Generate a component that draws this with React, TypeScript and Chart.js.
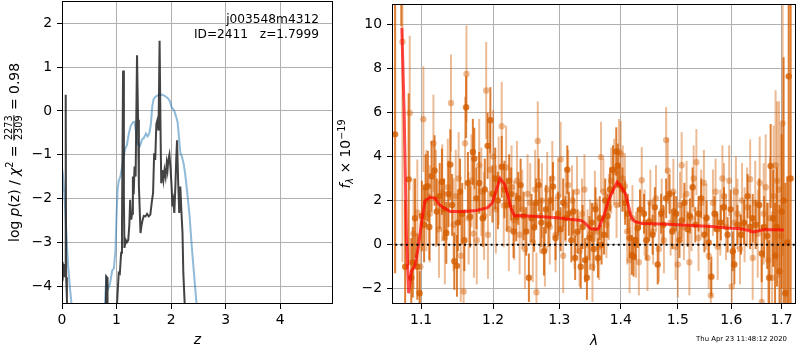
import React, { useEffect, useRef } from 'react';
import { Chart, registerables } from 'chart.js';

Chart.register(...registerables);

const FONT = '"DejaVu Sans", sans-serif';

// ---------------- Left panel: log p(z) ----------------
const zTicks = [0, 1, 2, 3, 4];
// light blue curve
const blueZ = [0, 0.02, 0.05, 0.08, 0.11, 0.15, 0.19, 0.3, 0.5, 0.7, 0.78, 0.81, 0.85, 0.88, 0.92, 0.95, 0.98, 1.0, 1.02, 1.04, 1.07, 1.1, 1.13, 1.16, 1.19, 1.225, 1.26, 1.3, 1.33, 1.36, 1.39, 1.43, 1.47, 1.5, 1.54, 1.57, 1.6, 1.63, 1.655, 1.68, 1.72, 1.78, 1.84, 1.89, 1.94, 1.98, 2.005, 2.03, 2.06, 2.09, 2.12, 2.145, 2.17, 2.2, 2.23, 2.26, 2.3, 2.34, 2.38, 2.42, 2.46, 2.5, 2.6, 3.0, 4.0, 5.0];
const blueLogP = [-1.3, -1.5, -2.05, -2.8, -3.5, -4.1, -4.6, -6.5, -8, -6.5, -4.6, -3.85, -4.05, -3.95, -3.65, -3.6, -3.2, -2.4, -1.8, -1.6, -1.5, -1.3, -1.05, -0.86, -0.78, -0.52, -0.34, -0.26, -0.25, -0.5, -0.75, -0.8, -0.65, -0.62, -0.52, -0.58, -0.52, -0.3, 0.1, 0.27, 0.33, 0.37, 0.37, 0.34, 0.29, 0.22, 0.1, 0.05, 0.0, -0.12, -0.25, -0.6, -0.95, -1.05, -1.2, -1.45, -1.9, -2.4, -3.1, -3.7, -4.3, -4.8, -6, -8, -9, -9];
// dark spiky curve
const darkZ = [0, 0.008, 0.016, 0.03, 0.045, 0.058, 0.068, 0.076, 0.09, 0.1, 0.13, 0.3, 0.6, 0.79, 0.812, 0.826, 0.835, 0.9, 0.99, 1.01, 1.04, 1.06, 1.085, 1.1, 1.12, 1.135, 1.145, 1.17, 1.19, 1.215, 1.235, 1.25, 1.27, 1.285, 1.3, 1.315, 1.33, 1.35, 1.376, 1.395, 1.41, 1.44, 1.46, 1.48, 1.5, 1.53, 1.56, 1.59, 1.62, 1.65, 1.67, 1.69, 1.71, 1.73, 1.75, 1.77, 1.79, 1.805, 1.82, 1.84, 1.86, 1.88, 1.9, 1.92, 1.935, 1.95, 1.97, 1.99, 2.01, 2.025, 2.04, 2.06, 2.08, 2.095, 2.11, 2.13, 2.15, 2.17, 2.19, 2.21, 2.225, 2.25, 2.28, 2.5, 5.0];
const darkLogP = [-3.7, -3.45, -3.75, -3.5, -3.8, -3.6, 0.37, -3.8, -4.3, -4.6, -6, -8, -8, -6, -3.78, -3.8, -6, -8, -6, -4.4, -3.7, -3.72, -3.24, -2.64, 0.92, -2.0, -3.13, -2.95, -3.0, -2.95, -2.6, -2.03, -2.48, -2.35, -1.5, -1.9, -1.27, -1.5, 1.27, -0.2, -1.7, -2.79, -2.6, -2.48, -2.4, -2.41, -2.35, -2.41, -2.37, -2.05, -1.88, -0.97, -1.12, -0.3, -0.21, -0.45, 1.6, -0.2, -1.65, -1.35, -1.58, -1.35, -1.5, -1.2, -1.35, -1.12, -1.0, -1.3, -1.73, -2.18, -2.05, -2.33, -1.7, -1.1, -0.67, -1.6, -2.33, -1.73, -2.3, -2.79, -3.7, -4.4, -6, -8, -9];

const OBJ_NAME = 'j003548m4312';
const OBJ_INFO = 'ID=2411   z=1.7999';
const CHI_NUM = '2273';
const CHI_DEN = '2309';
const CHI_VAL = '0.98';

// ---------------- Right panel: spectrum ----------------
const lamTicks = [1.1, 1.2, 1.3, 1.4, 1.5, 1.6, 1.7];
const fluxTicks = [-2, 0, 2, 4, 6, 8, 10];
const TIMESTAMP = 'Thu Apr 23 11:48:12 2020';

const modelLam = [1.0747, 1.0777, 1.0806, 1.0836, 1.0872, 1.0916, 1.096, 1.1005, 1.105, 1.112, 1.119, 1.1234, 1.13, 1.1395, 1.158, 1.176, 1.192, 1.199, 1.204, 1.21, 1.2165, 1.2215, 1.2265, 1.2315, 1.239, 1.279, 1.304, 1.3345, 1.34, 1.3505, 1.361, 1.3635, 1.3715, 1.3795, 1.3876, 1.394, 1.4, 1.4082, 1.414, 1.418, 1.424, 1.436, 1.471, 1.5, 1.562, 1.593, 1.619, 1.632, 1.642, 1.652, 1.6655, 1.705];
const modelFlux = [9.83, 6.0, 0.5, -2.2, -1.2, -0.98, -0.18, 0.98, 1.98, 2.15, 2.1, 1.85, 1.68, 1.5, 1.5, 1.55, 1.68, 1.9, 2.4, 3.0, 2.75, 2.22, 1.62, 1.3, 1.32, 1.25, 1.2, 1.1, 1.0, 0.72, 0.7, 0.76, 1.28, 2.0, 2.5, 2.83, 2.65, 2.3, 1.68, 1.23, 1.05, 0.96, 0.94, 0.9, 0.82, 0.75, 0.72, 0.65, 0.58, 0.62, 0.69, 0.67];

// [lambda, flux, error]  (first orient, darker)
const specDark: [number, number, number][] = [
  [1.066, 5.0, 6.3], [1.074, 14.0, 4.1], [1.079, -1.0, 3.0], [1.0836, 2.96, 3.9], [1.087, -1.5, 1.8], [1.089, -0.8, 1.6], [1.092, 1.2, 1.8], [1.095, -1.0, 1.5], [1.098, -2.2, 1.0], [1.101, 1.3, 1.6],
  [1.104, 0.9, 1.7], [1.106, 2.6, 1.5], [1.109, 2.65, 1.6], [1.111, 0.8, 1.5], [1.114, 3.1, 1.6], [1.118, 3.36, 1.6], [1.121, 1.5, 1.5], [1.125, 2.2, 1.5], [1.128, 2.85, 1.5], [1.131, 1.6, 1.4],
  [1.134, 0.53, 1.4], [1.137, 2.3, 1.5], [1.1395, 3.63, 1.6], [1.142, 1.8, 1.4], [1.145, -0.75, 1.3], [1.1487, -0.96, 1.4], [1.15, 1.0, 1.3], [1.153, 2.4, 1.5], [1.156, 1.4, 1.4], [1.159, 0.2, 1.4],
  [1.1615, 6.23, 1.4], [1.164, 2.8, 1.4], [1.167, 1.27, 1.4], [1.171, 4.2, 1.5], [1.173, 3.9, 1.4], [1.176, 2.1, 1.4], [1.18, 2.8, 1.4], [1.185, 1.2, 1.3], [1.188, 2.5, 1.4], [1.192, 4.48, 1.5],
  [1.196, 5.64, 1.5], [1.199, 2.3, 1.3], [1.203, 3.0, 1.4], [1.207, 2.0, 1.3], [1.2125, 3.53, 1.4], [1.2165, 2.5, 1.3], [1.22, 1.8, 1.2], [1.2235, 2.9, 1.2], [1.2265, 2.3, 1.2], [1.23, 0.6, 1.2],
  [1.234, 1.25, 1.1], [1.237, 2.1, 1.2], [1.2405, 2.7, 1.2], [1.245, 1.3, 1.1], [1.249, 0.6, 1.1], [1.253, -1.5, 1.1], [1.257, 1.2, 1.1], [1.261, 0.78, 1.1], [1.264, 1.9, 1.1], [1.268, 2.7, 1.2],
  [1.272, 1.0, 1.1], [1.276, -0.3, 1.1], [1.279, 1.6, 1.1], [1.283, 0.9, 1.0], [1.286, 2.0, 1.1], [1.29, 2.64, 1.1], [1.294, 0.3, 1.0], [1.298, 1.4, 1.0], [1.302, 0.7, 1.0], [1.306, 1.9, 1.1],
  [1.3095, 1.2, 1.0], [1.3125, 3.4, 1.1], [1.315, 1.4, 1.0], [1.319, 0.2, 1.0], [1.322, 1.5, 1.0], [1.325, -0.6, 1.0], [1.329, 0.6, 1.0], [1.334, -1.0, 1.0], [1.337, 0.8, 1.0], [1.341, -0.7, 1.0],
  [1.344, -1.5, 1.0], [1.348, 0.3, 1.0], [1.352, 1.0, 0.9], [1.355, -0.2, 1.0], [1.358, 1.6, 1.0], [1.362, -0.6, 0.9], [1.365, 1.2, 1.0], [1.368, 0.0, 0.9], [1.372, 0.45, 0.9], [1.374, 2.0, 1.0],
  [1.378, 1.3, 1.0], [1.382, 2.5, 1.0], [1.387, 3.4, 1.1], [1.3925, 4.22, 1.1], [1.395, 3.58, 1.0], [1.398, 2.7, 1.0], [1.403, 2.5, 1.0], [1.4075, 1.9, 1.0], [1.412, 1.4, 0.9], [1.415, 0.3, 0.9],
  [1.419, -0.47, 0.9], [1.422, -0.55, 0.9], [1.4255, 0.2, 0.9], [1.429, 0.75, 0.9], [1.433, 1.6, 0.9], [1.44, 1.4, 0.9], [1.444, 0.2, 0.9], [1.449, 1.05, 0.9], [1.455, 0.45, 0.9], [1.459, 1.7, 0.9],
  [1.464, -0.9, 0.9], [1.47, 1.4, 0.9], [1.474, 0.9, 0.9], [1.479, 2.1, 0.9], [1.485, 2.3, 0.9], [1.49, 0.6, 0.8], [1.493, 1.5, 0.9], [1.497, 1.4, 0.8], [1.503, 0.2, 0.8], [1.507, 1.1, 0.8],
  [1.512, 1.9, 0.9], [1.518, 0.7, 0.8], [1.522, 1.3, 0.8], [1.527, 2.6, 0.9], [1.532, 0.9, 0.8], [1.538, 1.4, 0.8], [1.543, 2.1, 0.9], [1.549, 0.45, 0.8], [1.553, 1.2, 0.8], [1.557, 0.1, 0.8],
  [1.562, -1.45, 0.9], [1.568, 1.4, 0.8], [1.573, 0.7, 0.8], [1.58, 1.0, 0.8], [1.586, 1.7, 0.9], [1.593, 0.45, 0.8], [1.599, 1.6, 0.9], [1.603, -0.3, 0.9], [1.606, -0.9, 0.9], [1.612, 0.9, 0.9],
  [1.619, 0.45, 0.9], [1.625, 1.0, 1.0], [1.632, 2.2, 1.0], [1.637, 0.8, 1.0], [1.642, 1.2, 1.1], [1.648, 0.9, 1.1], [1.655, 1.8, 1.2], [1.66, -0.4, 1.3], [1.665, 0.8, 1.4], [1.671, 0.4, 1.5],
  [1.675, -1.5, 1.7], [1.678, 3.57, 1.9], [1.683, 1.2, 2.2], [1.687, -0.5, 2.4], [1.691, 0.8, 2.7], [1.696, -1.2, 3.0], [1.7005, 1.5, 3.5], [1.7045, 2.0, 6.5], [1.708, -2.2, 5.0], [1.712, 0.1, 3.0],
  [1.715, 7.63, 12], [1.719, 3.0, 15],
];

// [lambda, flux, error]  (second orient, lighter)
const specLight: [number, number, number][] = [
  [1.0755, 9.2, 10], [1.085, 5.97, 3.5], [1.09, 0.5, 2.5], [1.095, 1.46, 2.4], [1.099, -1.0, 2.4], [1.103, 5.69, 2.4], [1.107, 2.0, 2.3], [1.1115, 1.4, 2.2], [1.1165, 4.6, 2.2], [1.12, 2.1, 2.2],
  [1.124, 0.7, 2.2], [1.1285, 2.35, 2.2], [1.132, 0.3, 2.1], [1.136, 2.6, 2.2], [1.1405, 6.42, 2.2], [1.144, 0.9, 2.1], [1.147, 2.2, 2.1], [1.151, 3.0, 2.1], [1.154, -0.5, 2.1], [1.158, -2.12, 2.1],
  [1.16, 4.6, 2.1], [1.162, 7.74, 2.2], [1.165, 1.2, 2.1], [1.169, 2.9, 2.1], [1.1725, 0.5, 2.0], [1.1765, 0.2, 2.0], [1.18, 3.6, 2.1], [1.183, 2.4, 2.0], [1.187, 1.3, 2.0], [1.19, 6.99, 2.2],
  [1.1925, 0.45, 2.0], [1.1955, 3.4, 2.1], [1.2, 4.0, 2.1], [1.204, 1.6, 2.0], [1.208, 2.9, 2.0], [1.2125, 5.37, 2.0], [1.2155, 1.78, 1.9], [1.219, 3.5, 1.9], [1.223, 0.7, 1.9], [1.227, 2.6, 1.9],
  [1.231, 1.1, 1.8], [1.235, 2.9, 1.8], [1.239, 0.45, 1.8], [1.243, 1.6, 1.8], [1.247, -0.2, 1.8], [1.251, 2.3, 1.8], [1.255, 1.9, 1.8], [1.259, 0.1, 1.8], [1.2625, 2.5, 1.8], [1.2645, -2.16, 1.8],
  [1.2665, 4.7, 1.8], [1.27, 1.3, 1.7], [1.273, 2.0, 1.7], [1.2775, -0.2, 1.7], [1.281, 2.5, 1.7], [1.285, 0.8, 1.7], [1.289, 3.0, 1.7], [1.294, 0.45, 1.7], [1.298, 2.2, 1.7], [1.302, 3.87, 1.7],
  [1.306, -0.5, 1.7], [1.31, 1.8, 1.7], [1.314, 2.7, 1.6], [1.32, 2.0, 1.6], [1.324, 0.5, 1.6], [1.328, 2.4, 1.6], [1.332, -0.3, 1.6], [1.336, 1.4, 1.6], [1.34, 2.5, 1.6], [1.345, 0.0, 1.6],
  [1.349, 0.45, 1.6], [1.353, -1.0, 1.6], [1.357, 1.75, 1.6], [1.361, 0.6, 1.5], [1.364, -0.1, 1.5], [1.367, 3.97, 1.6], [1.371, 2.4, 1.5], [1.376, 0.9, 1.5], [1.38, 1.7, 1.5], [1.384, 2.9, 1.5],
  [1.389, 3.3, 1.5], [1.393, 1.8, 1.5], [1.397, 4.2, 1.5], [1.4, 4.1, 1.5], [1.4035, 3.0, 1.5], [1.407, 2.65, 1.5], [1.411, 0.6, 1.5], [1.415, -0.7, 1.5], [1.42, 1.2, 1.5], [1.426, 0.0, 1.5],
  [1.431, -0.8, 1.5], [1.436, 2.92, 1.5], [1.441, 1.0, 1.5], [1.446, -0.6, 1.5], [1.451, 1.9, 1.5], [1.456, 0.6, 1.5], [1.461, 2.1, 1.5], [1.466, -0.2, 1.5], [1.471, 1.5, 1.5], [1.475, 0.2, 1.5],
  [1.479, 4.74, 1.5], [1.482, 3.35, 1.5], [1.487, 1.0, 1.5], [1.492, 2.4, 1.5], [1.496, -0.1, 1.5], [1.5, -0.9, 1.5], [1.504, 1.8, 1.5], [1.507, 3.6, 1.5], [1.511, 0.8, 1.5], [1.516, 2.3, 1.5],
  [1.521, -0.8, 1.5], [1.525, 1.2, 1.5], [1.529, 3.0, 1.5], [1.534, 3.74, 1.5], [1.538, 0.3, 1.5], [1.543, 1.9, 1.5], [1.548, 2.8, 1.5], [1.5525, 1.25, 1.5], [1.557, -0.5, 1.5], [1.561, -2.3, 1.5],
  [1.565, 1.9, 1.5], [1.57, 2.4, 1.5], [1.574, -0.1, 1.5], [1.579, 1.0, 1.5], [1.583, 3.0, 1.5], [1.586, 2.2, 1.5], [1.59, 0.8, 1.5], [1.596, 2.9, 1.6], [1.601, -1.9, 1.6], [1.605, 1.0, 1.6],
  [1.609, 2.4, 1.6], [1.612, 1.4, 1.6], [1.617, -0.2, 1.6], [1.621, 2.0, 1.7], [1.626, 0.9, 1.7], [1.631, 1.7, 1.8], [1.637, 2.97, 1.8], [1.642, -0.6, 1.9], [1.647, 1.9, 1.9], [1.652, 0.5, 2.0],
  [1.656, 2.8, 2.1], [1.66, -2.6, 2.2], [1.664, 1.4, 2.3], [1.668, 2.6, 2.4], [1.673, -0.7, 2.6], [1.677, 1.2, 2.8], [1.681, -1.5, 3.0], [1.684, 2.2, 3.2], [1.688, 3.6, 3.4], [1.691, 2.9, 3.6],
  [1.695, 2.5, 4.0], [1.699, 0.4, 5.0], [1.7025, 5.5, 6.0],
];

// ---------------- helpers ----------------
const W1 = 336;
const W2 = 464;
const H = 350;
const TICK_FONT = { family: FONT, size: 13.9 };
const GRID = { color: '#b0b0b0', lineWidth: 1, tickColor: '#000', tickLength: 5, tickWidth: 1, drawTicks: true };

const minusFmt = (v: number | string) => {
  const n = Number(v);
  return n < 0 ? '\u2212' + String(Math.abs(n)) : String(n);
};

const boxFit = (size: number, horizontal: boolean) => (s: any) => {
  if (horizontal) s.height = size;
  else s.width = size;
  s.paddingTop = 0;
  s.paddingBottom = 0;
  s.paddingLeft = 0;
  s.paddingRight = 0;
};

const framePlugin = {
  id: 'frame',
  afterDatasetsDraw(chart: any) {
    const { ctx, chartArea: a } = chart;
    ctx.save();
    ctx.strokeStyle = '#000';
    ctx.lineWidth = 1;
    ctx.strokeRect(Math.round(a.left) + 0.5, Math.round(a.top) + 0.5, Math.round(a.right - a.left) - 1, Math.round(a.bottom - a.top) - 1);
    ctx.restore();
  },
};

const errorBarPlugin = {
  id: 'errbars',
  beforeDatasetDraw(chart: any, args: any) {
    const ds = chart.data.datasets[args.index];
    if (!ds.errors) return;
    const { ctx, chartArea: a } = chart;
    const x = chart.scales.x;
    const y = chart.scales.y;
    ctx.save();
    ctx.beginPath();
    ctx.rect(a.left, a.top, a.right - a.left, a.bottom - a.top);
    ctx.clip();
    ctx.strokeStyle = ds.errColor;
    ctx.lineWidth = 2;
    ds.data.forEach((p: any, i: number) => {
      const px = x.getPixelForValue(p.x);
      ctx.beginPath();
      ctx.moveTo(px, y.getPixelForValue(p.y - ds.errors[i]));
      ctx.lineTo(px, y.getPixelForValue(p.y + ds.errors[i]));
      ctx.stroke();
    });
    ctx.restore();
  },
};

type Run = { t: string; f: string; dy: number };

function runWidth(ctx: CanvasRenderingContext2D, r: Run) {
  ctx.font = r.f;
  return ctx.measureText(r.t).width;
}

function drawRotatedRuns(ctx: CanvasRenderingContext2D, cx: number, cy: number, pre: Run[], frac: null | { num: string; den: string; f: string }, post: Run[]) {
  ctx.save();
  let fw = 0;
  if (frac) {
    ctx.font = frac.f;
    fw = Math.max(ctx.measureText(frac.num).width, ctx.measureText(frac.den).width) + 2;
  }
  const total = pre.reduce((s, r) => s + runWidth(ctx, r), 0) + fw + post.reduce((s, r) => s + runWidth(ctx, r), 0);
  ctx.translate(cx, cy);
  ctx.rotate(-Math.PI / 2);
  ctx.fillStyle = '#000';
  ctx.textBaseline = 'alphabetic';
  ctx.textAlign = 'left';
  let u = -total / 2;
  for (const r of pre) {
    ctx.font = r.f;
    ctx.fillText(r.t, u, r.dy);
    u += ctx.measureText(r.t).width;
  }
  if (frac) {
    const axis = -4.6;
    ctx.font = frac.f;
    ctx.textAlign = 'center';
    ctx.fillText(frac.num, u + fw / 2, axis - 1.6);
    ctx.fillText(frac.den, u + fw / 2, axis + 8.4);
    ctx.fillRect(u + 0.5, axis - 0.5, fw - 1, 0.9);
    ctx.textAlign = 'left';
    u += fw;
  }
  for (const r of post) {
    ctx.font = r.f;
    ctx.fillText(r.t, u, r.dy);
    u += ctx.measureText(r.t).width;
  }
  ctx.restore();
}

const N14 = `13.9px ${FONT}`;
const I14 = `italic 13.9px ${FONT}`;
const S10 = `9.7px ${FONT}`;
const SI10 = `italic 9.7px ${FONT}`;

const leftTextPlugin = {
  id: 'leftText',
  afterDraw(chart: any) {
    const { ctx, chartArea: a } = chart;
    ctx.save();
    ctx.fillStyle = '#000';
    ctx.font = `12.2px ${FONT}`;
    ctx.textAlign = 'right';
    ctx.textBaseline = 'middle';
    ctx.fillText(OBJ_NAME, a.right - 14, a.top + 19);
    ctx.fillText(OBJ_INFO, a.right - 14, a.top + 33.5);
    ctx.font = I14;
    ctx.textAlign = 'center';
    ctx.textBaseline = 'alphabetic';
    ctx.fillText('z', (a.left + a.right) / 2, 343.5);
    ctx.restore();
    drawRotatedRuns(
      ctx, 18.5, (a.top + a.bottom) / 2,
      [
        { t: 'log ', f: N14, dy: 0 },
        { t: 'p', f: I14, dy: 0 },
        { t: '(z) / ', f: N14, dy: 0 },
        { t: '\u03c7', f: I14, dy: 0 },
        { t: '2', f: S10, dy: -5.5 },
        { t: ' = ', f: N14, dy: 0 },
      ],
      { num: CHI_NUM, den: CHI_DEN, f: S10 },
      [{ t: ' = ' + CHI_VAL, f: N14, dy: 0 }],
    );
  },
};

const rightTextPlugin = {
  id: 'rightText',
  afterDraw(chart: any) {
    const { ctx, chartArea: a } = chart;
    ctx.save();
    ctx.fillStyle = '#000';
    ctx.font = I14;
    ctx.textAlign = 'center';
    ctx.textBaseline = 'alphabetic';
    ctx.fillText('\u03bb', (a.left + a.right) / 2, 345);
    ctx.font = `6.9px ${FONT}`;
    ctx.textAlign = 'right';
    ctx.textBaseline = 'middle';
    ctx.fillText(TIMESTAMP, 787 - 336, 339.5);
    ctx.restore();
    drawRotatedRuns(
      ctx, 14, (a.top + a.bottom) / 2,
      [
        { t: 'f', f: I14, dy: 0 },
        { t: '\u03bb', f: SI10, dy: 2.5 },
        { t: ' \u00d7 10', f: N14, dy: 0 },
        { t: '\u221219', f: S10, dy: -5.5 },
      ],
      null,
      [],
    );
  },
};

export default function App() {
  const leftRef = useRef<HTMLCanvasElement | null>(null);
  const rightRef = useRef<HTMLCanvasElement | null>(null);

  useEffect(() => {
    Chart.defaults.font.family = FONT;
    Chart.defaults.color = '#000';

    const left = new Chart(leftRef.current as HTMLCanvasElement, {
      type: 'line',
      data: {
        datasets: [
          {
            data: darkZ.map((z, i) => ({ x: z, y: darkLogP[i] })),
            borderColor: 'rgba(34,34,34,0.85)',
            borderWidth: 2,
            pointRadius: 0,
            order: 1,
            clip: 0,
          } as any,
          {
            data: blueZ.map((z, i) => ({ x: z, y: blueLogP[i] })),
            borderColor: 'rgba(31,119,180,0.5)',
            borderWidth: 2,
            pointRadius: 0,
            order: 2,
            clip: 0,
          } as any,
        ],
      },
      options: {
        responsive: false,
        animation: false,
        devicePixelRatio: 1,
        layout: { padding: { top: 1, right: W1 - 333, left: 0, bottom: 0 } },
        plugins: { legend: { display: false }, tooltip: { enabled: false } },
        scales: {
          x: {
            type: 'linear',
            min: 0,
            max: 4.97,
            afterBuildTicks: (s: any) => { s.ticks = zTicks.map((v) => ({ value: v })); },
            ticks: { font: TICK_FONT, color: '#000', padding: 3, maxRotation: 0, callback: (v: any) => minusFmt(v) },
            grid: GRID,
            border: { display: false },
            afterFit: boxFit(46, true),
          },
          y: {
            type: 'linear',
            min: -4.41,
            max: 2.51,
            ticks: { stepSize: 1, includeBounds: false, font: TICK_FONT, color: '#000', padding: 5, callback: (v: any) => minusFmt(v) },
            grid: GRID,
            border: { display: false },
            afterFit: boxFit(62, false),
          },
        },
      } as any,
      plugins: [framePlugin, leftTextPlugin],
    });

    const right = new Chart(rightRef.current as HTMLCanvasElement, {
      type: 'scatter',
      data: {
        datasets: [
          {
            type: 'line',
            data: [{ x: 1.0, y: 0 }, { x: 1.8, y: 0 }],
            borderColor: '#000',
            borderWidth: 2,
            borderDash: [2, 3.3],
            pointRadius: 0,
            order: 0,
            clip: 0,
          },
          {
            type: 'line',
            data: modelLam.map((l, i) => ({ x: l, y: modelFlux[i] })),
            borderColor: 'rgba(255,0,0,0.7)',
            borderWidth: 3,
            pointRadius: 0,
            order: 1,
            clip: 0,
          },
          {
            data: specDark.map((d) => ({ x: d[0], y: d[1] })),
            errors: specDark.map((d) => d[2]),
            errColor: 'rgba(213,94,0,0.8)',
            backgroundColor: 'rgba(213,94,0,0.8)',
            pointRadius: 3.2,
            pointBorderWidth: 0,
            order: 2,
            clip: 0,
          },
          {
            data: specLight.map((d) => ({ x: d[0], y: d[1] })),
            errors: specLight.map((d) => d[2]),
            errColor: 'rgba(213,94,0,0.42)',
            backgroundColor: 'rgba(213,94,0,0.42)',
            pointRadius: 3.2,
            pointBorderWidth: 0,
            order: 3,
            clip: 0,
          },
        ] as any,
      },
      options: {
        responsive: false,
        animation: false,
        devicePixelRatio: 1,
        layout: { padding: { top: 1, right: W2 - 463, left: 0, bottom: 0 } },
        plugins: { legend: { display: false }, tooltip: { enabled: false } },
        scales: {
          x: {
            type: 'logarithmic',
            min: 1.062,
            max: 1.7302,
            afterBuildTicks: (s: any) => { s.ticks = lamTicks.map((v) => ({ value: v })); },
            ticks: { font: TICK_FONT, color: '#000', padding: 3, maxRotation: 0, autoSkip: false, callback: (v: any) => Number(v).toFixed(1) },
            grid: GRID,
            border: { display: false },
            afterFit: boxFit(46, true),
          },
          y: {
            type: 'linear',
            min: -2.69,
            max: 10.91,
            afterBuildTicks: (s: any) => { s.ticks = fluxTicks.map((v) => ({ value: v })); },
            ticks: { font: TICK_FONT, color: '#000', padding: 5, callback: (v: any) => minusFmt(v) },
            grid: GRID,
            border: { display: false },
            afterFit: boxFit(56, false),
          },
        },
      } as any,
      plugins: [errorBarPlugin, framePlugin, rightTextPlugin],
    });

    return () => {
      left.destroy();
      right.destroy();
    };
  }, []);

  return (
    <div style={{ position: 'absolute', left: 0, top: 0, width: 800, height: 350, background: '#fff', overflow: 'hidden' }}>
      <canvas ref={leftRef} width={W1} height={H} style={{ position: 'absolute', left: 0, top: 0, width: W1, height: H }} />
      <canvas ref={rightRef} width={W2} height={H} style={{ position: 'absolute', left: W1, top: 0, width: W2, height: H }} />
    </div>
  );
}
